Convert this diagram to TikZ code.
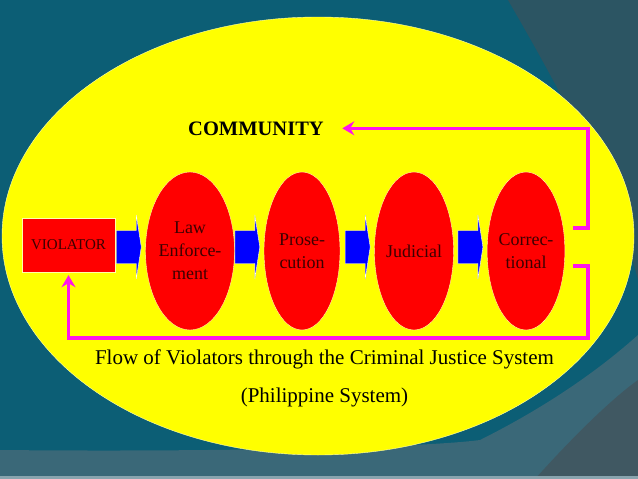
\documentclass[tikz,border=0pt]{standalone}
\usepackage{fontspec}
\setmainfont{Liberation Serif}
\usetikzlibrary{arrows.meta,shapes.geometric}
\definecolor{slideTeal}{RGB}{12,94,117}
\definecolor{slideGrey}{RGB}{44,85,99}
\definecolor{slideBand}{RGB}{58,104,120}
\definecolor{slideDark}{RGB}{64,88,98}
\definecolor{communityYellow}{RGB}{255,255,0}
\definecolor{stageRed}{RGB}{255,0,0}
\definecolor{labelRed}{RGB}{60,0,0}
\definecolor{flowBlue}{RGB}{0,0,255}
\definecolor{loopMagenta}{RGB}{255,20,235}
\definecolor{rimWhite}{RGB}{255,255,170}

\tikzset{
  stage/.style={ellipse, fill=stageRed, draw=rimWhite, thin, minimum width=76pt,
    minimum height=158pt, inner sep=0pt, align=center, text=labelRed,
    font=\fontsize{18}{23}\selectfont},
  offender/.style={rectangle, fill=stageRed, draw=rimWhite, thin, minimum width=93pt,
    minimum height=54pt, inner sep=0pt, text=labelRed, font=\fontsize{15}{18}\selectfont},
  caption/.style={anchor=base, font=\fontsize{21}{25}\selectfont},
  bluearr/.style={fill=flowBlue, draw=white, thin, line join=miter},
  loop/.style={draw=loopMagenta, line width=3.5pt, line join=miter,
    -{Stealth[length=12pt,width=14pt,inset=4pt]}}
}

\begin{document}
\begin{tikzpicture}[x=1pt,y=-1pt]
    \useasboundingbox (0,0) rectangle (638,479);
    % slide background
    \fill[slideTeal] (0,0) rectangle (638,479);
    \fill[slideGrey] (508,0) .. controls (560,90) and (615,190) .. (638,280) -- (638,0) -- cycle;
    \fill[slideBand] (0,450) .. controls (200,452) and (420,448) .. (480,440)
      .. controls (560,400) and (610,360) .. (638,335) -- (638,479) -- (0,479) -- cycle;
    \fill[slideDark] (535,479) .. controls (570,440) and (610,400) .. (638,380) -- (638,479) -- cycle;
    \fill[white!40!slideBand] (0,476) rectangle (638,479);
    \filldraw[fill=communityYellow, draw=rimWhite] (318,236) ellipse [x radius=316, y radius=219];

    \node[offender] (viol) at (68.5,245) {VIOLATOR};
    \node[stage] (law) at (190,251) {Law\\Enforce-\\ment};
    \node[stage] (pros) at (302,251) {Prose-\\cution};
    \node[stage] (jud) at (414,251) {Judicial};
    \node[stage] (corr) at (526,251) {Correc-\\tional};

    \node[caption, font=\bfseries\fontsize{20.5}{24}\selectfont] (comm) at (256,135) {COMMUNITY};
    \node[caption] (flow) at (324.5,364) {Flow of Violators through the Criminal Justice System};
    \node[caption] (phil) at (324.5,402) {(Philippine System)};

    % block arrows in front of each stage
    \foreach \n in {law,pros,jud,corr}{
      \path[bluearr] ([shift={(-29pt,20.5pt)}]\n.west) -- ++(20pt,0pt) -- ++(0pt,15.5pt)
        -- ++(5pt,-32pt) -- ++(-5pt,-32pt) -- ++(0pt,15.5pt) -- ++(-20pt,0pt) -- cycle;
    }

    % release back to the community and re-offending
    \draw[loop] ([shift={(8pt,23pt)}]corr.east) -- ++(15pt,0pt) |- ([xshift=15pt]comm.east);
    \draw[loop] ([shift={(8pt,-15pt)}]corr.east) -- ++(15pt,0pt) -- ++(0pt,-72pt)
      -| ([yshift=-3pt]viol.south);
\end{tikzpicture}
\end{document}
